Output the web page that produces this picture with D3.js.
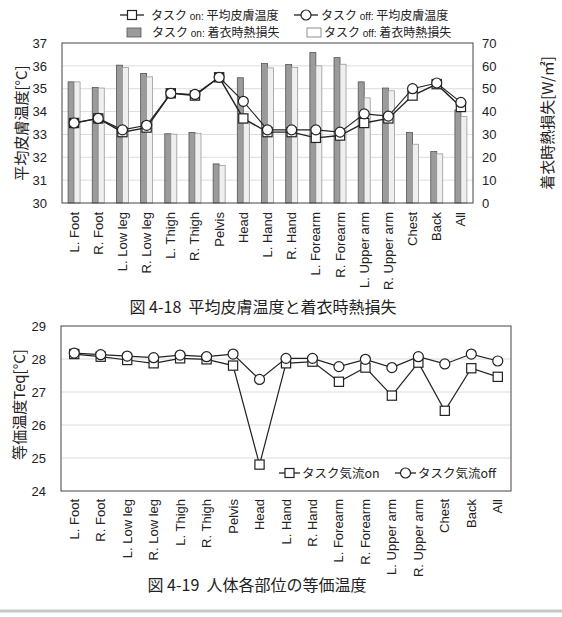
<!DOCTYPE html>
<html lang="ja">
<head>
<meta charset="UTF-8">
<title>平均皮膚温度と着衣時熱損失</title>
<script src="https://d3js.org/d3.v7.min.js"></script>
<style>
  body { margin: 0; background: #fff; }
  svg { display: block; font-family: 'Liberation Sans', Arial, sans-serif; }
  .jp { font-family: 'Noto Sans CJK JP', sans-serif; }
</style>
</head>
<body>
<svg width="562" height="617"></svg>
<script>
const parts = ["L. Foot", "R. Foot", "L. Low leg", "R. Low leg", "L. Thigh", "R. Thigh", "Pelvis", "Head",
  "L. Hand", "R. Hand", "L. Forearm", "R. Forearm", "L. Upper arm", "R. Upper arm", "Chest", "Back", "All"];

// 図4-18 平均皮膚温度 [°C]
const skinOn  = [33.5, 33.7, 33.1, 33.3, 34.8, 34.7, 35.5, 33.7, 33.1, 33.1, 32.85, 32.95, 33.5, 33.7, 34.7, 35.2, 34.2];
const skinOff = [33.5, 33.7, 33.2, 33.4, 34.8, 34.75, 35.5, 34.45, 33.2, 33.2, 33.2, 33.1, 33.9, 33.8, 35.0, 35.25, 34.4];
// 着衣時熱損失 [W/㎡]
const lossOn  = [53.0, 50.5, 60.3, 56.7, 30.3, 30.9, 17.1, 54.8, 61.0, 60.6, 65.8, 63.6, 53.0, 50.3, 30.9, 22.5, 40.7];
const lossOff = [53.0, 50.3, 59.3, 55.2, 30.1, 30.5, 16.4, 35.0, 59.1, 59.3, 60.0, 60.7, 46.0, 49.1, 25.7, 21.5, 37.8];

// 図4-19 等価温度 Teq [°C]
const teqOn  = [28.15, 28.07, 27.97, 27.87, 28.02, 27.99, 27.8, 24.8, 27.87, 27.92, 27.31, 27.74, 26.89, 27.89, 26.43, 27.72, 27.46];
const teqOff = [28.18, 28.13, 28.09, 28.04, 28.12, 28.07, 28.15, 27.38, 28.02, 28.02, 27.77, 27.99, 27.74, 28.07, 27.85, 28.15, 27.94];

const leftTicks1 = [30, 31, 32, 33, 34, 35, 36, 37];
const rightTicks1 = [0, 10, 20, 30, 40, 50, 60, 70];
const leftTicks2 = [24, 25, 26, 27, 28, 29];

const svg = d3.select("svg");
const ink = "#222";
const fmt = d3.format("d");

// ---------- chart 1 ----------
const p1 = { l: 62, r: 473, t: 43, b: 203 };
const x1 = d3.scaleBand().domain(parts).range([p1.l, p1.r]);
const yL1 = d3.scaleLinear().domain([30, 37]).range([p1.b, p1.t]);
const yR1 = d3.scaleLinear().domain([0, 70]).range([p1.b, p1.t]);
const sub = d3.scaleBand().domain(["on", "off"]).range([-6, 6]);

const g1 = svg.append("g");

g1.append("g")
  .selectAll("line")
  .data(leftTicks1.slice(1, -1))
  .join("line")
  .attr("x1", p1.l).attr("x2", p1.r)
  .attr("y1", d => yL1(d)).attr("y2", d => yL1(d))
  .attr("stroke", "#dcdcdc").attr("stroke-width", 1);

const bars = parts.map((p, i) => [
  { part: p, k: "on", v: lossOn[i] },
  { part: p, k: "off", v: lossOff[i] }
]).flat();

g1.append("g")
  .selectAll("rect")
  .data(bars)
  .join("rect")
  .attr("x", d => x1(d.part) + x1.bandwidth() / 2 + sub(d.k))
  .attr("width", sub.bandwidth())
  .attr("y", d => yR1(d.v))
  .attr("height", d => yR1(0) - yR1(d.v))
  .attr("fill", d => d.k === "on" ? "#9b9b9b" : "#efefef")
  .attr("stroke", d => d.k === "on" ? "#555" : "#9a9a9a")
  .attr("stroke-width", 0.8);

function drawSeries(g, x, y, vals, shape, lw) {
  const pts = parts.map((p, i) => [x(p) + x.bandwidth() / 2, y(vals[i])]);
  g.append("path")
    .attr("d", d3.line()(pts))
    .attr("fill", "none")
    .attr("stroke", ink)
    .attr("stroke-width", lw);
  if (shape === "square") {
    g.append("g").selectAll("rect").data(pts).join("rect")
      .attr("x", d => d[0] - 4.6).attr("y", d => d[1] - 4.6)
      .attr("width", 9.2).attr("height", 9.2)
      .attr("fill", "#fff").attr("stroke", ink).attr("stroke-width", 1.2);
  } else {
    g.append("g").selectAll("circle").data(pts).join("circle")
      .attr("cx", d => d[0]).attr("cy", d => d[1]).attr("r", 5)
      .attr("fill", "#fff").attr("stroke", ink).attr("stroke-width", 1.2);
  }
}

drawSeries(g1, x1, yL1, skinOn, "square", 1.4);
drawSeries(g1, x1, yL1, skinOff, "circle", 1.1);

g1.append("rect")
  .attr("x", p1.l).attr("y", p1.t)
  .attr("width", p1.r - p1.l).attr("height", p1.b - p1.t)
  .attr("fill", "none").attr("stroke", "#444").attr("stroke-width", 1);

g1.append("g")
  .attr("transform", `translate(${p1.l - 15},0)`)
  .call(d3.axisLeft(yL1).tickValues(leftTicks1).tickFormat(fmt).tickSize(0).tickPadding(0))
  .call(a => a.select(".domain").remove())
  .selectAll("text").attr("font-size", 13).attr("fill", ink)
  .attr("font-family", "'Liberation Sans', Arial, sans-serif");

g1.append("g")
  .attr("transform", `translate(${p1.r + 9},0)`)
  .call(d3.axisRight(yR1).tickValues(rightTicks1).tickFormat(fmt).tickSize(0).tickPadding(0))
  .call(a => a.select(".domain").remove())
  .selectAll("text").attr("font-size", 13).attr("fill", ink)
  .attr("font-family", "'Liberation Sans', Arial, sans-serif");

function xLabels(g, x, top) {
  g.append("g").selectAll("text").data(parts).join("text")
    .attr("transform", d => `translate(${x(d) + x.bandwidth() / 2 + 4.5},${top}) rotate(-90)`)
    .attr("text-anchor", "end")
    .attr("font-size", 13)
    .attr("fill", ink)
    .text(d => d);
}
xLabels(g1, x1, 212);

svg.append("text").attr("class", "jp")
  .attr("transform", `translate(27,${(p1.t + p1.b) / 2}) rotate(-90)`)
  .attr("text-anchor", "middle").attr("font-size", 15).attr("fill", ink)
  .text("平均皮膚温度[°C]");

svg.append("text").attr("class", "jp")
  .attr("transform", `translate(553,${(p1.t + p1.b) / 2}) rotate(-90)`)
  .attr("text-anchor", "middle").attr("font-size", 15).attr("fill", ink)
  .text("着衣時熱損失[W/㎡]");

// legend chart 1
function legendText(g, x, y, a, b, c, size) {
  const t = g.append("text").attr("x", x).attr("y", y).attr("class", "jp")
    .attr("font-size", size).attr("fill", ink);
  t.append("tspan").text(a);
  t.append("tspan").attr("font-size", size - 2)
    .attr("font-family", "'Liberation Sans', Arial, sans-serif").text(b);
  t.append("tspan").text(c);
}
function legendLine(g, x, y, shape, w) {
  g.append("line").attr("x1", x).attr("x2", x + w).attr("y1", y).attr("y2", y)
    .attr("stroke", ink).attr("stroke-width", 1.3);
  if (shape === "square") {
    g.append("rect").attr("x", x + w / 2 - 4.5).attr("y", y - 4.5).attr("width", 9).attr("height", 9)
      .attr("fill", "#fff").attr("stroke", ink).attr("stroke-width", 1.2);
  } else {
    g.append("circle").attr("cx", x + w / 2).attr("cy", y).attr("r", 5)
      .attr("fill", "#fff").attr("stroke", ink).attr("stroke-width", 1.2);
  }
}
const lg = svg.append("g");
legendLine(lg, 120, 15, "square", 24);
legendText(lg, 151, 19.5, "タスク", " on: ", "平均皮膚温度", 12);
legendLine(lg, 294, 15, "circle", 24);
legendText(lg, 321, 19.5, "タスク", " off: ", "平均皮膚温度", 12);
lg.append("rect").attr("x", 127).attr("y", 28).attr("width", 14).attr("height", 9)
  .attr("fill", "#9b9b9b").attr("stroke", "#555").attr("stroke-width", 0.8);
legendText(lg, 152, 37, "タスク", " on: ", "着衣時熱損失", 12);
lg.append("rect").attr("x", 307).attr("y", 28).attr("width", 14).attr("height", 9)
  .attr("fill", "#fff").attr("stroke", "#777").attr("stroke-width", 0.8);
legendText(lg, 324, 37, "タスク", " off: ", "着衣時熱損失", 12);

svg.append("text").attr("class", "jp")
  .attr("x", 263).attr("y", 313)
  .attr("text-anchor", "middle").attr("font-size", 16).attr("fill", ink)
  .attr("xml:space", "preserve")
  .text("図 4-18  平均皮膚温度と着衣時熱損失");

// ---------- chart 2 ----------
const p2 = { l: 61, r: 511, t: 326, b: 491 };
const x2 = d3.scaleBand().domain(parts).range([p2.l, p2.r]);
const y2 = d3.scaleLinear().domain([24, 29]).range([p2.b, p2.t]);
const g2 = svg.append("g");

g2.append("g").selectAll("line")
  .data(leftTicks2.slice(1, -1))
  .join("line")
  .attr("x1", p2.l).attr("x2", p2.r)
  .attr("y1", d => y2(d)).attr("y2", d => y2(d))
  .attr("stroke", "#dcdcdc").attr("stroke-width", 1);

drawSeries(g2, x2, y2, teqOn, "square", 1.2);
drawSeries(g2, x2, y2, teqOff, "circle", 1.2);

g2.append("rect")
  .attr("x", p2.l).attr("y", p2.t)
  .attr("width", p2.r - p2.l).attr("height", p2.b - p2.t)
  .attr("fill", "none").attr("stroke", "#444").attr("stroke-width", 1);

g2.append("g")
  .attr("transform", `translate(${p2.l - 15},0)`)
  .call(d3.axisLeft(y2).tickValues(leftTicks2).tickFormat(fmt).tickSize(0).tickPadding(0))
  .call(a => a.select(".domain").remove())
  .selectAll("text").attr("font-size", 13).attr("fill", ink)
  .attr("font-family", "'Liberation Sans', Arial, sans-serif");

xLabels(g2, x2, 499);

svg.append("text").attr("class", "jp")
  .attr("transform", `translate(25,${(p2.t + p2.b) / 2 - 4}) rotate(-90)`)
  .attr("text-anchor", "middle").attr("font-size", 15).attr("fill", ink)
  .text("等価温度Teq[°C]");

const lg2 = svg.append("g");
legendLine(lg2, 279, 473, "square", 21);
lg2.append("text").attr("class", "jp").attr("x", 302).attr("y", 477.5)
  .attr("font-size", 12.5).attr("fill", ink).text("タスク気流on");
legendLine(lg2, 395, 473, "circle", 21);
lg2.append("text").attr("class", "jp").attr("x", 418).attr("y", 477.5)
  .attr("font-size", 12.5).attr("fill", ink).text("タスク気流off");

svg.append("text").attr("class", "jp")
  .attr("x", 257).attr("y", 591)
  .attr("text-anchor", "middle").attr("font-size", 16).attr("fill", ink)
  .attr("xml:space", "preserve")
  .text("図 4-19  人体各部位の等価温度");

svg.append("line")
  .attr("x1", 0).attr("x2", 562).attr("y1", 611).attr("y2", 611)
  .attr("stroke", "#c8c8c8").attr("stroke-width", 3);
</script>
</body>
</html>
